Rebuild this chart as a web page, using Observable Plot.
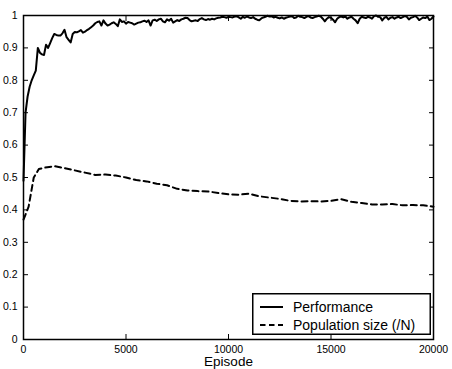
<!DOCTYPE html>
<html><head><meta charset="utf-8">
<script src="https://cdn.jsdelivr.net/npm/d3@7"></script>
<script src="https://cdn.jsdelivr.net/npm/@observablehq/plot@0.6"></script>
<style>
body{margin:0;background:#fff;}
#wrap{position:relative;width:452px;height:369px;}
#legend{position:absolute;left:252px;top:293px;}
</style></head><body><div id="wrap"></div>
<script>
const perfStep = 100;
const perfValues = [
0.49, 0.70, 0.75, 0.78, 0.80, 0.815, 0.83, 0.90, 0.885, 0.88,
0.878, 0.91, 0.90, 0.915, 0.93, 0.943, 0.94, 0.938, 0.938, 0.945,
0.956, 0.933, 0.925, 0.917, 0.943, 0.949, 0.948, 0.951, 0.955, 0.947,
0.950, 0.955, 0.959, 0.964, 0.969, 0.976, 0.980, 0.982, 0.969, 0.985,
0.975, 0.969, 0.972, 0.976, 0.979, 0.974, 0.967, 0.988, 0.980, 0.982,
0.975, 0.980, 0.978, 0.976, 0.972, 0.975, 0.978, 0.979, 0.982, 0.984,
0.980, 0.985, 0.969, 0.985, 0.987, 0.983, 0.988, 0.990, 0.982, 0.979,
0.988, 0.984, 0.990, 0.978, 0.982, 0.986, 0.983, 0.988, 0.990, 0.993,
0.992, 0.986, 0.982, 0.984, 0.985, 0.983, 0.989, 0.992, 0.988, 0.986,
0.989, 0.987, 0.990, 0.988, 0.991, 0.993, 0.994, 0.996, 0.995, 0.993,
0.996, 0.995, 0.994, 0.997, 0.998, 0.994, 0.990, 0.996, 0.993, 0.997,
0.994, 0.992, 0.995, 0.990, 0.987, 0.985, 0.991, 0.994, 0.996, 0.999,
0.997, 0.998, 0.994, 0.996, 0.993, 0.991, 0.994, 0.990, 0.993, 0.995,
0.997, 0.998, 0.992, 0.994, 0.999, 0.996, 0.995, 0.992, 0.996, 0.998,
0.994, 0.992, 0.995, 0.997, 0.999, 0.997, 0.990, 0.982, 0.990, 0.995,
0.993, 0.987, 0.979, 0.990, 0.995, 0.997, 0.994, 0.997, 0.990, 0.994,
0.996, 0.990, 0.985, 0.976, 0.990, 0.996, 0.994, 0.992, 0.996, 0.994,
0.990, 0.998, 1.000, 0.996, 0.995, 0.985, 0.993, 0.996, 0.988, 0.993,
0.995, 0.990, 0.994, 0.996, 0.992, 0.995, 0.998, 0.996, 0.988, 0.993,
0.995, 0.999, 0.994, 0.986, 0.990, 0.994, 0.992, 0.997, 0.986, 0.990,
0.997
];
const perfEpisodes = d3.range(0, perfValues.length * perfStep, perfStep);

const popEpisodes = [0, 250, 500, 750, 1000, 1500, 2000, 2500, 3000, 3500, 4000, 4500, 5000,
  5500, 6000, 6500, 7000, 7500, 8000, 8500, 9000, 9500, 10000, 10500, 11000, 11500, 12000,
  12500, 13000, 13500, 14000, 14500, 15000, 15500, 16000, 16500, 17000, 17500, 18000,
  18500, 19000, 19500, 20000];
const popValues = [0.37, 0.41, 0.50, 0.526, 0.530, 0.535, 0.529, 0.522, 0.515, 0.508, 0.509, 0.506, 0.500,
  0.492, 0.488, 0.481, 0.476, 0.465, 0.460, 0.458, 0.457, 0.452, 0.448, 0.447, 0.450, 0.442, 0.438,
  0.434, 0.428, 0.426, 0.427, 0.426, 0.428, 0.433, 0.425, 0.421, 0.417, 0.417, 0.418,
  0.414, 0.415, 0.414, 0.410];

const xTicks = [0, 5000, 10000, 15000, 20000];
const yTicks = [0, 0.1, 0.2, 0.3, 0.4, 0.5, 0.6, 0.7, 0.8, 0.9, 1];
const yTickLabels = ["0", "0.1", "0.2", "0.3", "0.4", "0.5", "0.6", "0.7", "0.8", "0.9", "1"];
const xLabel = "Episode";
const seriesNames = ["Performance", "Population size (/N)"];

const perf = perfEpisodes.map((e, i) => ({episode: e, value: perfValues[i]}));
const pop = popEpisodes.map((e, i) => ({episode: e, value: popValues[i]}));

const chart = Plot.plot({
  width: 452, height: 369,
  marginLeft: 23, marginRight: 19, marginTop: 15, marginBottom: 30,
  style: {fontFamily: "'Liberation Sans', Arial, sans-serif", fontSize: "10.5px", color: "#000", background: "#fff"},
  x: {domain: [0, 20000], axis: null},
  y: {domain: [0, 1], axis: null},
  marks: [
    Plot.axisY(yTicks, {anchor: "left", tickSize: 0, tickPadding: 6, tickFormat: d => yTickLabels[yTicks.indexOf(d)], label: null}),
    Plot.axisY(yTicks, {anchor: "left", tickSize: -5, fill: "none", label: null}),
    Plot.axisY(yTicks, {anchor: "right", tickSize: -5, fill: "none", label: null}),
    Plot.axisX(xTicks, {anchor: "bottom", tickSize: 0, tickPadding: 6.5, tickFormat: d => String(d), label: null}),
    Plot.axisX(xTicks, {anchor: "bottom", tickSize: -5, fill: "none", label: null}),
    Plot.axisX(xTicks, {anchor: "top", tickSize: -5, fill: "none", label: null}),
    Plot.text([xLabel], {frameAnchor: "bottom", dy: 22.5, lineAnchor: "middle", fontSize: 13.5, fill: "#000", style: "letter-spacing:0.3px"}),
    Plot.line(pop, {x: "episode", y: "value", stroke: "#000", strokeWidth: 2, strokeDasharray: "6,4"}),
    Plot.line(perf, {x: "episode", y: "value", stroke: "#000", strokeWidth: 2}),
    Plot.frame({stroke: "#000", strokeWidth: 1.5})
  ]
});
const wrap = document.getElementById("wrap");
wrap.appendChild(chart);

const legend = document.createElement("div");
legend.id = "legend";
legend.innerHTML = `<svg width="179" height="42" style="font-family:'Liberation Sans', Arial, sans-serif;font-size:14px">
<rect x="0.75" y="0.75" width="177.5" height="40.5" fill="#fff" stroke="#000" stroke-width="1.5"/>
<line x1="8" x2="31" y1="14" y2="14" stroke="#000" stroke-width="2"/>
<line x1="8" x2="31" y1="32" y2="32" stroke="#000" stroke-width="2" stroke-dasharray="5.5,3.5"/>
<text x="41" y="19" fill="#000">${seriesNames[0]}</text>
<text x="41" y="37" fill="#000">${seriesNames[1]}</text>
</svg>`;
wrap.appendChild(legend);
</script>
</body></html>
